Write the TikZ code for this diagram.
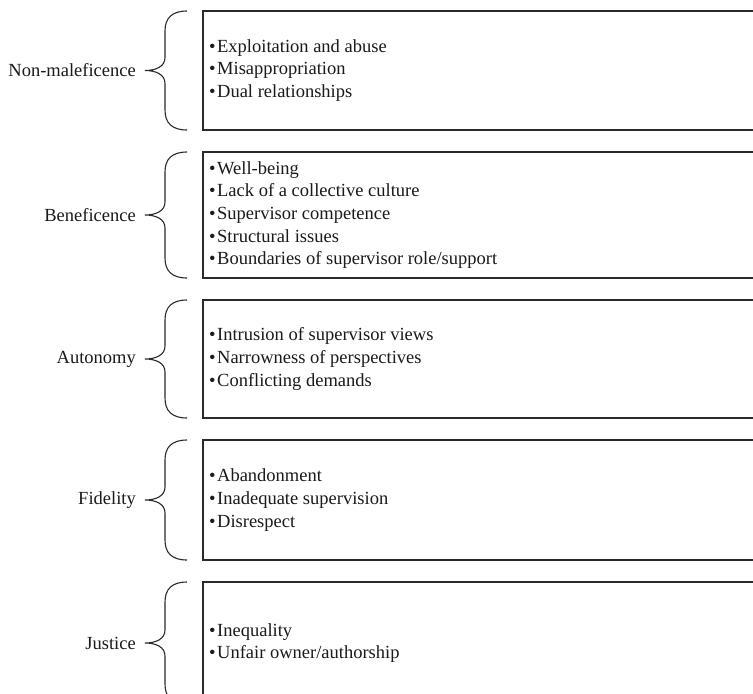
\documentclass[tikz,border=0pt]{standalone}
\usepackage{fontspec}
\setmainfont{Liberation Serif}
\definecolor{ink}{HTML}{1A1A1A}
\definecolor{linec}{HTML}{2A2A2A}
\newcommand{\mybrace}[1]{%
  \draw[bracestyle] ([xshift=-16pt]#1.north west)
    .. controls ([xshift=-31pt]#1.north west) and ([xshift=-38pt,yshift=-7pt]#1.north west) .. ([xshift=-38pt,yshift=-20pt]#1.north west)
    -- ([xshift=-38pt,yshift=13pt]#1.west)
    .. controls ([xshift=-38pt,yshift=4pt]#1.west) and ([xshift=-47pt]#1.west) .. ([xshift=-58pt]#1.west)
    .. controls ([xshift=-47pt]#1.west) and ([xshift=-38pt,yshift=-4pt]#1.west) .. ([xshift=-38pt,yshift=-13pt]#1.west)
    -- ([xshift=-38pt,yshift=20pt]#1.south west)
    .. controls ([xshift=-38pt,yshift=7pt]#1.south west) and ([xshift=-31pt]#1.south west) .. ([xshift=-16pt]#1.south west);}
\newcommand{\bl}{\textbullet\hspace{1.5pt}}
\begin{document}
\begin{tikzpicture}[x=1pt,y=-1pt,
  box/.style={draw=linec,line width=1.2pt,rectangle,inner sep=0pt,outer sep=0pt,anchor=north west,minimum width=567pt},
  bracestyle/.style={draw=linec,line width=1.1pt},
  items/.style={anchor=west,align=left,inner sep=0pt,text=ink,font=\fontsize{18.5pt}{22.6pt}\selectfont,xshift=6pt},
  lab/.style={anchor=east,inner sep=0pt,text=ink,font=\fontsize{18.5pt}{22.6pt}\selectfont,xshift=-67pt}]
\useasboundingbox (0,0) rectangle (753,694);
\clip (0,0) rectangle (753,694);
\fill[white] (0,0) rectangle (753,694);
% boxes
\node[box,minimum height=119pt] (box1) at (203,11) {};
\node[box,minimum height=126pt] (box2) at (203,152) {};
\node[box,minimum height=118pt] (box3) at (203,300) {};
\node[box,minimum height=120pt] (box4) at (203,440) {};
\node[box,minimum height=122pt] (box5) at (203,582) {};
% items
\node[items] (t1) at (box1.west) {\bl Exploitation and abuse\\\bl Misappropriation\\\bl Dual relationships};
\node[items] (t2) at (box2.west) {\bl Well-being\\\bl Lack of a collective culture\\\bl Supervisor competence\\\bl Structural issues\\\bl Boundaries of supervisor role/support};
\node[items] (t3) at (box3.west) {\bl Intrusion of supervisor views\\\bl Narrowness of perspectives\\\bl Conflicting demands};
\node[items] (t4) at (box4.west) {\bl Abandonment\\\bl Inadequate supervision\\\bl Disrespect};
\node[items] (t5) at (box5.west) {\bl Inequality\\\bl Unfair owner/authorship};
% labels
\node[lab] (l1) at (box1.west) {Non-maleficence};
\node[lab] (l2) at (box2.west) {Beneficence};
\node[lab] (l3) at (box3.west) {Autonomy};
\node[lab] (l4) at (box4.west) {Fidelity};
\node[lab] (l5) at (box5.west) {Justice};
% braces
\mybrace{box1}
\mybrace{box2}
\mybrace{box3}
\mybrace{box4}
\mybrace{box5}
\end{tikzpicture}
\end{document}
